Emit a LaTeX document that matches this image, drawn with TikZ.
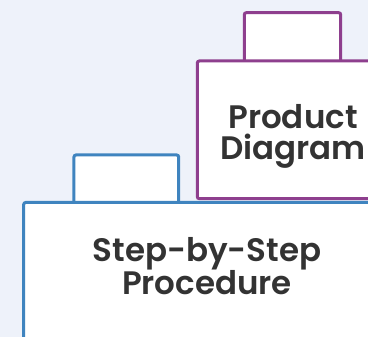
\documentclass[tikz,border=0pt]{standalone}
\usepackage{fontspec}
\newfontfamily\labelfont{Poppins SemiBold}
\definecolor{bgcol}{HTML}{EEF2FA}
\definecolor{bluecol}{HTML}{3F84BF}
\definecolor{purplecol}{HTML}{8E3F8E}
\definecolor{textcol}{HTML}{333333}
\tikzset{
  box/.style={line width=3pt, fill=white, rounded corners=2pt},
  caption/.style={font=\labelfont\fontsize{32.5}{31}\selectfont, text=textcol,
    align=center, inner sep=0pt},
}
\begin{document}
\begin{tikzpicture}[x=1pt, y=-1pt]
  % page and background
  \fill[bgcol] (0,0) rectangle (368,337);
  \useasboundingbox (0,0) rectangle (368,337);
  \begin{scope}
    \clip (0,0) rectangle (368,337);
    % blue container: tab first, body on top
    \draw[box, draw=bluecol] (74,210) -- (74,155) -- (178.7,155) -- (178.7,210);
    \draw[box, draw=bluecol] (23.7,360) -- (23.7,202.5) -- (392,202.5) -- (392,360);
    % purple container
    \draw[box, draw=purplecol] (244.3,70) -- (244.3,12.7) -- (340.7,12.7) -- (340.7,70);
    \draw[box, draw=purplecol] (390,198.7) rectangle (197.3,61);
  \end{scope}
  \node[caption] (prod) at (293,136) {Product\\Diagram};
  \node[caption] (step) at (207,266) {Step-by-Step\\Procedure};
\end{tikzpicture}
\end{document}
